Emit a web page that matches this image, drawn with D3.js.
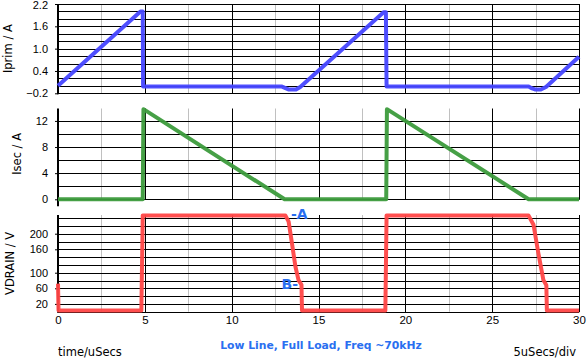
<!DOCTYPE html>
<html><head><meta charset="utf-8">
<script src="https://cdn.jsdelivr.net/npm/d3@7"></script>
<style>
body{margin:0;background:#fff;}
svg{display:block;font-family:"DejaVu Sans",Verdana,sans-serif;}
</style></head>
<body>
<svg id="c" width="587" height="358"></svg>
<script>
// ---- data ----
const timeTicks = [0, 5, 10, 15, 20, 25, 30];
const timeMinor = [2.5, 7.5, 12.5, 17.5, 22.5, 27.5];

const iprimT = [0, 4.75, 4.88, 4.9, 12.9, 13.1, 13.3, 13.7, 13.95, 18.75, 18.88, 18.92, 27.1, 27.3, 27.5, 27.8, 28.1, 30];
const iprimV = [0, 2.0, 2.0, -0.02, -0.02, -0.06, -0.1, -0.1, -0.03, 1.98, 1.98, -0.02, -0.02, -0.07, -0.1, -0.1, -0.03, 0.78];
const iprimTicks = [2.2, 1.6, 1.0, 0.4, -0.2];

const isecT = [0, 4.88, 4.92, 13.05, 18.9, 18.94, 27.1, 30];
const isecV = [0, 0, 13.8, 0, 0, 13.8, 0, 0];
const isecTicks = [12, 8, 4, 0];

const vdrainT = [0, 0.03, 4.8, 4.88, 13.09, 13.28, 13.47, 13.67, 13.85, 14.02, 14.05, 18.85, 18.92, 27.09, 27.38, 27.66, 27.95, 28.12, 28.15, 30];
const vdrainV = [72, 3, 3, 247, 247, 231, 176, 116, 81, 69, 3, 3, 247, 247, 223, 150, 81, 68, 3, 3];
const vdrainTicks = [200, 160, 100, 60, 20];

const xLabel = "time/uSecs";
const xScaleLabel = "5uSecs/div";
const title = "Low Line, Full Load, Freq ~70kHz";

// ---- drawing ----
const svg = d3.select("#c");
const x = d3.scaleLinear().domain([0, 30]).range([58, 579]);

const panels = [
  {name:"Iprim / A", t:iprimT, v:iprimV, ticks:iprimTicks, dom:[-0.2,2.2], rng:[93.3,4], grid:d3.range(13).map(i=>-0.2+i*0.2), fmt:d3.format(".1f"), color:"rgb(70,70,255)", tx:8, axisExtra:0},
  {name:"Isec / A", t:isecT, v:isecV, ticks:isecTicks, dom:[0,13.9], rng:[199.3,108.5], grid:d3.range(0,13,2), fmt:d3.format("d"), color:"rgb(60,155,60)", tx:16.5, axisExtra:6},
  {name:"VDRAIN / V", t:vdrainT, v:vdrainV, ticks:vdrainTicks, dom:[0,248], rng:[311.7,215], grid:d3.range(0,241,20), fmt:d3.format("d"), color:"rgb(255,70,70)", tx:9.5, axisExtra:0}
];

panels.forEach((p, pi) => {
  const y = d3.scaleLinear().domain(p.dom).range(p.rng);
  const g = svg.append("g");
  const top = p.rng[1], bot = p.rng[0];
  g.selectAll(".vm").data(timeMinor).join("line")
    .attr("x1", d=>Math.round(x(d))+0.5).attr("x2", d=>Math.round(x(d))+0.5)
    .attr("y1", top).attr("y2", bot).attr("stroke", "#c0c0c0").attr("stroke-width", 1);
  g.selectAll(".hg").data(p.grid).join("line")
    .attr("x1", x(0)).attr("x2", x(30))
    .attr("y1", d=>Math.round(y(d))+0.5).attr("y2", d=>Math.round(y(d))+0.5)
    .attr("stroke", "#000").attr("stroke-width", 1);
  g.selectAll(".vg").data(timeTicks.slice(1)).join("line")
    .attr("x1", d=>Math.round(x(d))+0.5).attr("x2", d=>Math.round(x(d))+0.5)
    .attr("y1", top).attr("y2", bot+0.5).attr("stroke", "#000").attr("stroke-width", 1);
  const ax = g.append("g").attr("transform", `translate(${x(0)},0)`)
    .call(d3.axisLeft(y).tickValues(p.ticks).tickFormat(p.fmt).tickSize(3).tickPadding(7));
  ax.select(".domain").remove();
  ax.selectAll("text").attr("font-size", 11).attr("fill", "#000");
  if (pi === 0) ax.selectAll("text").filter(d => d === 2.2).attr("y", 0.8);
  g.append("line").attr("x1", x(0)).attr("x2", x(0)).attr("y1", top).attr("y2", bot + 1 + p.axisExtra)
    .attr("stroke", "#000").attr("stroke-width", 2);
  const line = d3.line().x(d=>x(d[0])).y(d=>y(d[1]));
  g.append("path").datum(p.t.map((t,i)=>[t, p.v[i]]))
    .attr("d", line).attr("fill", "none").attr("stroke", p.color)
    .attr("stroke-width", 4).attr("stroke-linejoin", "round").attr("stroke-opacity", 0.95);
  svg.append("text").attr("transform", `translate(${p.tx},${(top+bot)/2}) rotate(-90)`)
    .attr("text-anchor", "middle").attr("dominant-baseline", "central")
    .attr("font-size", 11.5).text(p.name);
  if (pi === 2) {
    const xa = g.append("g").attr("transform", `translate(0,${bot})`)
      .call(d3.axisBottom(x).tickValues(timeTicks).tickFormat(d3.format("d")).tickSize(0).tickPadding(4));
    xa.select(".domain").remove();
    xa.selectAll("text").attr("font-size", 11.5).attr("fill", "#000");
    svg.append("text").attr("x", 291).attr("y", y(250)).attr("dominant-baseline","central")
      .attr("font-size", 14).attr("font-weight","bold").attr("fill","#2a6ff0").text("-A");
    svg.append("text").attr("x", 298).attr("y", y(70)).attr("dominant-baseline","central").attr("text-anchor","end")
      .attr("font-size", 14).attr("font-weight","bold").attr("fill","#2a6ff0").text("B-");
  }
});

svg.append("text").attr("x", 58).attr("y", 356).attr("font-size", 11.5).text(xLabel);
svg.append("text").attr("x", 576).attr("y", 356).attr("text-anchor","end").attr("font-size", 11.5).text(xScaleLabel);
svg.append("text").attr("x", 321).attr("y", 349).attr("text-anchor","middle").attr("font-size", 10.8)
  .attr("font-weight","bold").attr("fill","#2a6ff0").text(title);
</script>
</body></html>
